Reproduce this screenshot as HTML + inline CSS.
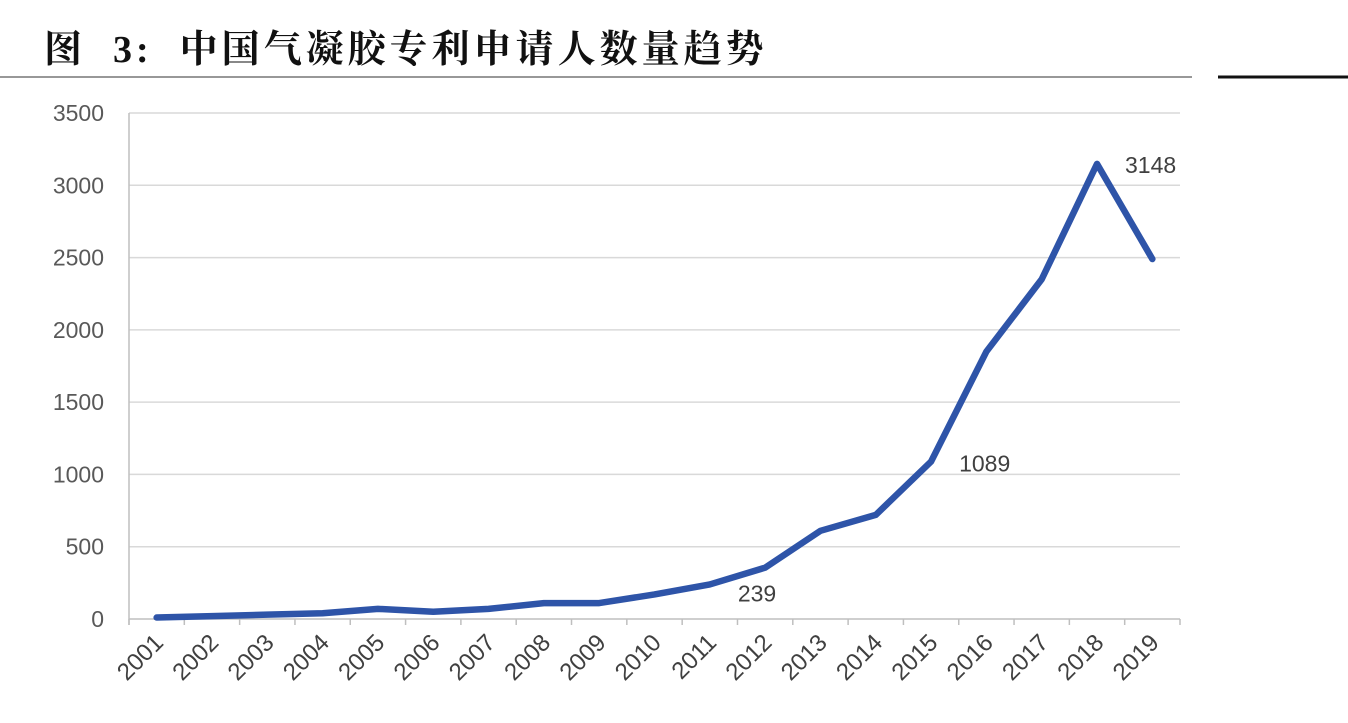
<!DOCTYPE html>
<html><head><meta charset="utf-8"><style>
body{margin:0;background:#fff;width:1348px;height:718px;overflow:hidden;font-family:"Liberation Sans","Noto Sans CJK SC",sans-serif}
</style></head><body>
<svg width="1348" height="718">
<text x="44" y="62" font-size="38" font-weight="bold" fill="#111" letter-spacing="4" font-family="'Liberation Serif','Noto Serif CJK SC',serif" xml:space="preserve">图  3:  中国气凝胶专利申请人数量趋势</text>
<line x1="0" y1="77" x2="1192" y2="77" stroke="#777" stroke-width="1.5"/>
<line x1="1218" y1="77" x2="1348" y2="77" stroke="#111" stroke-width="3"/>
<g id="grid"></g><g id="axes"></g><g id="marks"></g>
</svg>
<script>
const years=["2001","2002","2003","2004","2005","2006","2007","2008","2009","2010","2011","2012","2013","2014","2015","2016","2017","2018","2019"];
const values=[10,20,30,40,70,50,70,110,110,170,239,355,610,720,1089,1850,2350,3148,2490];
const yTicks=[0,500,1000,1500,2000,2500,3000,3500];
const labelled=[10,14,17];
const NS="http://www.w3.org/2000/svg";
const X0=129,X1=1180,Y0=619,Y1=113,MAX=3500;
const bw=(X1-X0)/years.length;
const xs=i=>X0+(i+0.5)*bw;
const ys=v=>Y0-(v/MAX)*(Y0-Y1);
function mk(t,a,p){const e=document.createElementNS(NS,t);for(const k in a)e.setAttribute(k,a[k]);p.appendChild(e);return e;}
const grid=document.getElementById('grid'),axes=document.getElementById('axes'),marks=document.getElementById('marks');
yTicks.forEach(v=>{
 const l=mk('line',{x1:X0,x2:X1,y1:ys(v),y2:ys(v),stroke:v?'#d9d9d9':'#bfbfbf','stroke-width':1.5},grid);
 
 
 const t=mk('text',{x:104,y:ys(v)+8,'text-anchor':'end','font-size':23,fill:'#595959'},axes);
 t.textContent=v;
 
 
});
mk('line',{x1:X0,x2:X0,y1:Y1,y2:Y0+6,stroke:'#bfbfbf','stroke-width':1.5},axes);
for(let i=0;i<=years.length;i++){
 mk('line',{x1:X0+i*bw,x2:X0+i*bw,y1:Y0,y2:Y0+6,stroke:'#bfbfbf','stroke-width':1.5},axes);
}
years.forEach((y,i)=>{
 const x=xs(i)+8,yy=644;
 const t=mk('text',{x:x,y:yy,'text-anchor':'end','font-size':24,fill:'#404040',transform:`rotate(-45 ${x} ${yy})`},axes);
 t.textContent=y;
 
 
});
const pts=values.map((v,i)=>xs(i)+','+ys(v)).join(' ');
const pl=mk('polyline',{points:pts,fill:'none',stroke:'#2e54a8','stroke-width':6.5,'stroke-linejoin':'round','stroke-linecap':'round'},marks);


labelled.forEach(i=>{
 const t=mk('text',{x:xs(i)+(i===17?28:(i===10?28:28)),y:ys(values[i])+(i===10?17:(i===14?10:9)),'font-size':23,fill:'#404040'},marks);
 t.textContent=values[i];
 
 
});
</script>
</body></html>
